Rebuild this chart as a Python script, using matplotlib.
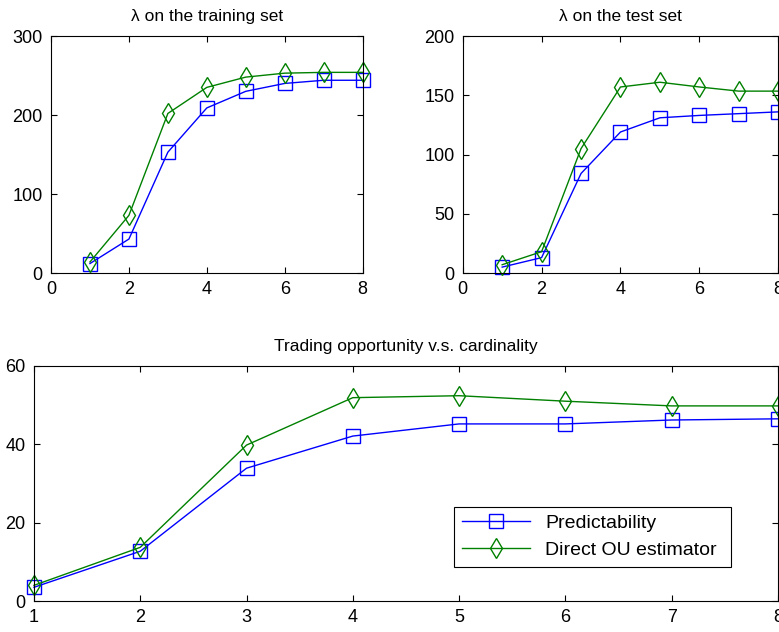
import matplotlib
matplotlib.use("Agg")
import matplotlib.pyplot as plt

plt.rcParams['font.family'] = ['Liberation Sans', 'DejaVu Sans']
plt.rcParams['font.size'] = 12

card = [1, 2, 3, 4, 5, 6, 7, 8]

train_pred = [12, 43, 153, 209, 230, 240, 244, 244]
train_ou = [14, 73, 202, 235, 248, 253, 254, 254]

test_pred = [5, 13, 84, 119, 131, 133, 134.5, 136]
test_ou = [7, 18, 105, 157, 161, 157, 153.5, 153.5]

trade_pred = [3.5, 12.7, 33.9, 42.1, 45.2, 45.2, 46.2, 46.5]
trade_ou = [4, 13.7, 39.8, 51.9, 52.4, 51, 49.8, 49.8]

blue = (0, 0, 1)
green = (0, 0.5, 0)


def style(ax):
	ax.tick_params(direction='in', top=True, right=True, length=4, width=0.8, pad=6, labelsize=13)
	for s in ax.spines.values():
		s.set_linewidth(0.8)


def draw(ax, y1, y2):
	ax.plot(card, y1, color=blue, marker='s', markersize=9.5, markerfacecolor='none',
			markeredgewidth=1.0, linewidth=1.0, label='Predictability', clip_on=False)
	ax.plot(card, y2, color=green, marker='d', markersize=10.5, markerfacecolor='none',
			markeredgewidth=1.0, linewidth=1.0, label='Direct OU estimator', clip_on=False)


fig = plt.figure(figsize=(7.79, 6.32), dpi=100)

ax1 = fig.add_axes([0.0655, 0.568, 0.4, 0.375])
draw(ax1, train_pred, train_ou)
ax1.set_xlim(0, 8)
ax1.set_ylim(0, 300)
ax1.set_xticks([0, 2, 4, 6, 8])
ax1.set_yticks([0, 100, 200, 300])
ax1.set_title('λ on the training set', fontsize=12.5, pad=11)
style(ax1)

ax2 = fig.add_axes([0.594, 0.568, 0.405, 0.375])
draw(ax2, test_pred, test_ou)
ax2.set_xlim(0, 8)
ax2.set_ylim(0, 200)
ax2.set_xticks([0, 2, 4, 6, 8])
ax2.set_yticks([0, 50, 100, 150, 200])
ax2.set_title('λ on the test set', fontsize=12.5, pad=11)
style(ax2)

ax3 = fig.add_axes([0.0436, 0.049, 0.955, 0.372])
draw(ax3, trade_pred, trade_ou)
ax3.set_xlim(1, 8)
ax3.set_ylim(0, 60)
ax3.set_xticks(card)
ax3.set_yticks([0, 20, 40, 60])
ax3.set_title('Trading opportunity v.s. cardinality', fontsize=12.5, pad=11)
style(ax3)

leg = ax3.legend(loc='lower left', bbox_to_anchor=(454 / 779, 1 - 567 / 632, 277 / 779, 67 / 632),
				 bbox_transform=fig.transFigure, mode='expand', fancybox=False, framealpha=1,
				 edgecolor='black', handlelength=3.5, borderaxespad=0, fontsize=14)
leg.get_frame().set_linewidth(0.8)

fig.savefig('out.png', dpi=100)
plt.close(fig)
